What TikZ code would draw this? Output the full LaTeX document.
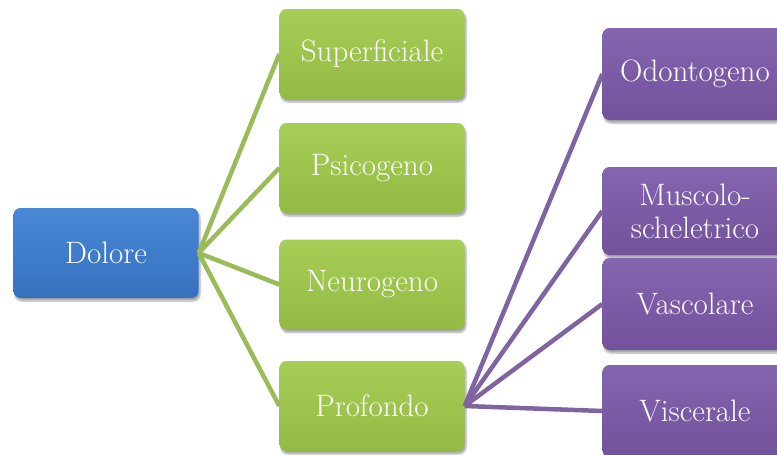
\documentclass[tikz,border=0pt]{standalone}
\usepackage{fontspec}
\usetikzlibrary{shadows.blur}

\definecolor{blueTop}{HTML}{4A87D5}
\definecolor{blueMid}{HTML}{3F7DCB}
\definecolor{blueBot}{HTML}{3670BC}
\definecolor{greenTop}{HTML}{A6CE56}
\definecolor{greenMid}{HTML}{9DC54D}
\definecolor{greenBot}{HTML}{92BA45}
\definecolor{purpleTop}{HTML}{8465AF}
\definecolor{purpleMid}{HTML}{7C5BA6}
\definecolor{purpleBot}{HTML}{72529B}
\definecolor{greenLine}{HTML}{9BBB59}
\definecolor{purpleLine}{HTML}{8064A2}

\tikzset{
  box/.style={rectangle, rounded corners=7pt, minimum width=185pt, minimum height=90pt,
    text=white, align=center, inner sep=2pt,
    font=\rmfamily\fontsize{31}{33}\selectfont,
    blur shadow={shadow xshift=1.5pt, shadow yshift=-3pt, shadow blur steps=6, shadow blur extra rounding=2pt, shadow opacity=35}},
  rootbox/.style={box, top color=blueTop, bottom color=blueBot, middle color=blueMid},
  midbox/.style={box, top color=greenTop, bottom color=greenBot, middle color=greenMid},
  leafbox/.style={box, minimum height=92pt, top color=purpleTop, bottom color=purpleBot, middle color=purpleMid},
  greenlink/.style={draw=greenLine, line width=4.5pt},
  purplelink/.style={draw=purpleLine, line width=4.5pt},
}

\begin{document}
\begin{tikzpicture}[x=1pt, y=-1pt]
  \clip (0,0) rectangle (777,455);
  \useasboundingbox (0,0) rectangle (777,455);

  % root
  \node[rootbox] (dolore) at (106,253) {Dolore};

  % second level
  \node[midbox] (sup) at (372,54) {Superficiale};
  \node[midbox] (psi) at (372,168) {Psicogeno};
  \node[midbox] (neu) at (372,284.5) {Neurogeno};
  \node[midbox] (pro) at (372,406) {Profondo};

  % third level
  \node[leafbox] (odo) at (695,74) {Odontogeno};
  \node[leafbox, minimum height=88pt] (mus) at (695,211) {Muscolo-\\scheletrico};
  \node[leafbox] (vas) at (695,304) {Vascolare};
  \node[leafbox] (vis) at (695,411) {Viscerale};

  % connectors
  \foreach \t in {sup,psi,neu,pro}
    \path[greenlink] (dolore.east) -- (\t.west);
  \foreach \t in {odo,mus,vas,vis}
    \path[purplelink] (pro.east) -- (\t.west);
\end{tikzpicture}
\end{document}
